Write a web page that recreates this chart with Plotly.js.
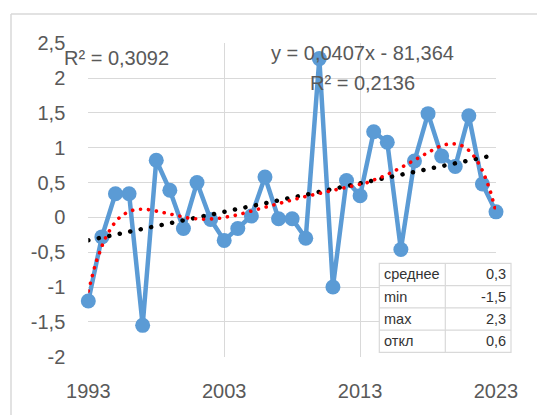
<!DOCTYPE html>
<html>
<head>
<meta charset="utf-8">
<script src="https://cdn.plot.ly/plotly-3.0.1.min.js"></script>
<style>
html,body{margin:0;padding:0;background:#fff;}
#chart{width:537px;height:415px;}
.scatterlayer path.js-line{stroke-linecap:round;stroke-linejoin:round;}
</style>
</head>
<body>
<div id="chart"></div>
<script>
// ---- data ----
const years = [1993,1994,1995,1996,1997,1998,1999,2000,2001,2002,2003,2004,2005,2006,2007,2008,2009,2010,2011,2012,2013,2014,2015,2016,2017,2018,2019,2020,2021,2022,2023];
const values = [-1.2,-0.28,0.34,0.34,-1.55,0.82,0.39,-0.16,0.5,-0.03,-0.33,-0.16,0.02,0.58,-0.02,-0.02,-0.3,2.28,-1.0,0.53,0.31,1.23,1.08,-0.46,0.81,1.49,0.88,0.73,1.46,0.48,0.08];
const xTickVals = [1993,2003,2013,2023];
const xTickText = ['1993','2003','2013','2023'];
const yTickVals = [-2,-1.5,-1,-0.5,0,0.5,1,1.5,2,2.5];
const yTickText = ['-2','-1,5','-1','-0,5','0','0,5','1','1,5','2','2,5'];
const statLabels = ['среднее','min','max','откл'];
const statValues = ['0,3','-1,5','2,3','0,6'];
const polyLabel = 'R² = 0,3092';
const linEqLabel = 'y = 0,0407x - 81,364';
const linR2Label = 'R² = 0,2136';

// ---- least-squares trendlines (as the spreadsheet computes them) ----
const x0 = 2008, xs = 15;
function polyFit(xv, yv, deg){
  const n = deg+1;
  const A = Array.from({length:n},()=>new Array(n+1).fill(0));
  for(let k=0;k<xv.length;k++){
    const t=(xv[k]-x0)/xs;
    const p=[];for(let i=0;i<n;i++)p.push(Math.pow(t,i));
    for(let i=0;i<n;i++){for(let j=0;j<n;j++)A[i][j]+=p[i]*p[j];A[i][n]+=p[i]*yv[k];}
  }
  for(let i=0;i<n;i++){
    let m=i;for(let r=i+1;r<n;r++)if(Math.abs(A[r][i])>Math.abs(A[m][i]))m=r;
    [A[i],A[m]]=[A[m],A[i]];
    for(let r=0;r<n;r++){if(r===i)continue;const f=A[r][i]/A[i][i];for(let c=i;c<=n;c++)A[r][c]-=f*A[i][c];}
  }
  return A.map((row,i)=>row[n]/row[i]);
}
function polyEval(c,x){const t=(x-x0)/xs;let s=0;for(let i=c.length-1;i>=0;i--)s=s*t+c[i];return s;}
const cLin = polyFit(years, values, 1);
const cPoly = polyFit(years, values, 6);
const fineX = [];
for(let x=years[0]; x<=years[years.length-1]+1e-9; x+=0.1) fineX.push(x);
const linY = fineX.map(x=>polyEval(cLin,x));
const polyY = fineX.map(x=>polyEval(cPoly,x));

const W=537,H=415;
const px = v=>v/W, py = v=>1-v/H;
const grey='#595959', grid='#d9d9d9';
const fnt='"Liberation Sans", Arial, sans-serif';

// stats box geometry (pixels)
const tL=379.3, tR=511, tMid=445.3, tT=263.3, tB=352.3;
const rowH=(tB-tT)/statLabels.length;

const traces = [
  {x:years,y:values,type:'scatter',mode:'lines+markers',cliponaxis:false,
   line:{color:'#5B9BD5',width:4.5},marker:{color:'#5B9BD5',size:15},hoverinfo:'skip'},
  {x:fineX,y:linY,type:'scatter',mode:'lines',cliponaxis:false,
   line:{color:'#000000',width:4.5,dash:'0.1px,10.6px'},hoverinfo:'skip'},
  {x:fineX,y:polyY,type:'scatter',mode:'lines',cliponaxis:false,
   line:{color:'#ff0000',width:3.6,dash:'0.1px,7.9px'},hoverinfo:'skip'}
];

const shapes = [
  {type:'line',xref:'paper',yref:'paper',x0:px(11),x1:px(11),y0:py(14),y1:0,line:{color:grid,width:1.5}},
  {type:'line',xref:'paper',yref:'paper',x0:px(11),x1:1,y0:py(14),y1:py(14),line:{color:grid,width:1.5}},
  {type:'rect',xref:'paper',yref:'paper',x0:px(tL),x1:px(tR),y0:py(tB),y1:py(tT),fillcolor:'#ffffff',line:{color:grid,width:1.2},layer:'above'},
  {type:'line',xref:'paper',yref:'paper',x0:px(tMid),x1:px(tMid),y0:py(tB),y1:py(tT),line:{color:grid,width:1.2},layer:'above'}
];
for(let i=1;i<statLabels.length;i++){
  shapes.push({type:'line',xref:'paper',yref:'paper',x0:px(tL),x1:px(tR),y0:py(tT+i*rowH),y1:py(tT+i*rowH),line:{color:grid,width:1.2},layer:'above'});
}

const annotations = [
  {text:polyLabel,xref:'paper',yref:'paper',x:px(116),y:py(58),xanchor:'center',yanchor:'middle',showarrow:false,font:{size:20,color:grey}},
  {text:linEqLabel,xref:'paper',yref:'paper',x:px(362),y:py(53),xanchor:'center',yanchor:'middle',showarrow:false,font:{size:20,color:grey}},
  {text:linR2Label,xref:'paper',yref:'paper',x:px(362),y:py(83),xanchor:'center',yanchor:'middle',showarrow:false,font:{size:20,color:grey}}
];
statLabels.forEach((lab,i)=>{
  const yc=py(tT+(i+0.5)*rowH);
  annotations.push({text:lab,xref:'paper',yref:'paper',x:px(tL+3),y:yc,xanchor:'left',yanchor:'middle',showarrow:false,font:{size:14.5,color:'#333333'}});
  annotations.push({text:statValues[i],xref:'paper',yref:'paper',x:px(tR-3),y:yc,xanchor:'right',yanchor:'middle',showarrow:false,font:{size:14.5,color:'#333333'}});
});

const layout = {
  width:W,height:H,margin:{l:0,r:0,t:0,b:0},
  paper_bgcolor:'#ffffff',plot_bgcolor:'#ffffff',showlegend:false,
  font:{family:fnt,color:grey,size:20},
  xaxis:{domain:[px(88.3),px(496)],range:[1993,2023],tickvals:xTickVals,ticktext:xTickText,
    showgrid:true,gridcolor:grid,gridwidth:1,zeroline:false,showline:false,
    ticks:'outside',ticklen:16,tickcolor:'rgba(0,0,0,0)',tickfont:{size:20,color:grey},fixedrange:true},
  yaxis:{domain:[py(356.7),py(43.3)],range:[-2,2.5],tickvals:yTickVals,ticktext:yTickText,
    showgrid:true,gridcolor:grid,gridwidth:1,zeroline:false,showline:false,
    ticks:'outside',ticklen:18,tickcolor:'rgba(0,0,0,0)',tickfont:{size:20,color:grey},fixedrange:true},
  shapes:shapes,
  annotations:annotations
};
Plotly.newPlot('chart',traces,layout,{staticPlot:true,displayModeBar:false});
</script>
</body>
</html>
